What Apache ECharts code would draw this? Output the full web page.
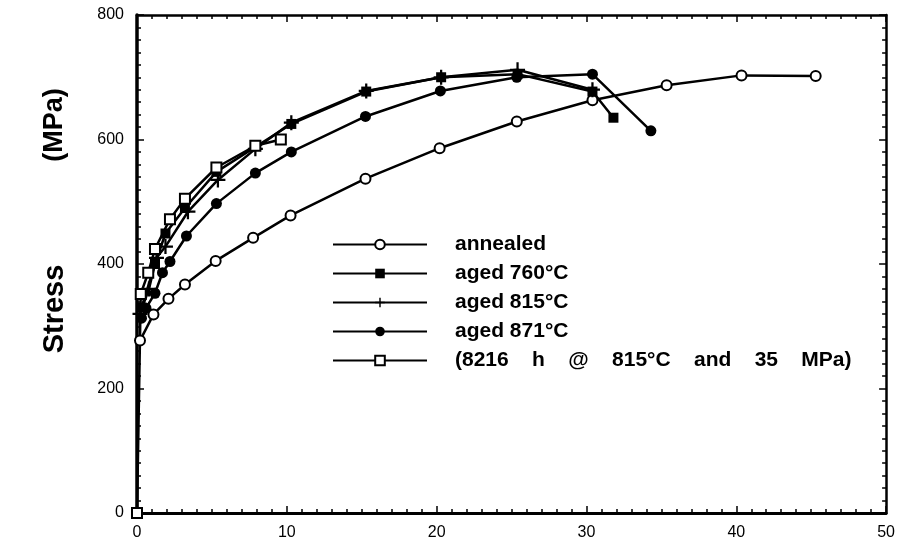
<!DOCTYPE html>
<html style="height: 100%" lang="en">
<head>
    <meta charset="UTF-8">
    <title>Stress curves</title>
</head>
<body style="height: 100%; margin: 0; background: #fff">
<div id="main1" style="width: 898px; height: 548px"></div>

<script src="https://cdn.jsdelivr.net/npm/echarts@6/dist/echarts.min.js"></script>
<script type="text/javascript">

    // data: [x, stress MPa]
    var annealed = [[0.2, 277], [1.1, 319], [2.1, 344], [3.2, 367], [5.25, 405], [7.75, 442],
        [10.25, 478], [15.25, 537], [20.2, 586], [25.35, 629], [30.4, 663], [35.35, 687],
        [40.35, 703], [45.3, 702]];
    var aged760 = [[0.3, 330], [1.2, 400], [1.9, 449], [3.2, 490], [5.3, 548], [10.3, 625],
        [15.3, 677], [20.3, 700], [25.4, 705], [30.4, 677], [31.8, 635]];
    var aged815 = [[0.2, 320], [0.8, 360], [1.3, 410], [1.9, 428], [3.4, 484], [5.4, 535],
        [7.9, 585], [10.3, 627], [15.3, 678], [20.3, 700], [25.4, 712], [30.4, 680]];
    var aged871 = [[0.3, 313], [0.6, 329], [1.2, 353], [1.7, 386], [2.2, 404], [3.3, 445],
        [5.3, 497], [7.9, 546], [10.3, 580], [15.25, 637], [20.25, 678], [25.35, 700],
        [30.4, 705], [34.3, 614]];
    var crept = [[0, 0], [0.25, 352], [0.75, 386], [1.2, 424], [2.2, 472], [3.2, 505],
        [5.3, 555], [7.9, 590], [9.6, 600]];
    var names = ['annealed', 'aged 760°C', 'aged 815°C', 'aged 871°C',
        '(8216    h    @    815°C    and    35    MPa)'];

    var plusPath = 'path://M8.5,0 L11.5,0 L11.5,8.5 L20,8.5 L20,11.5 L11.5,11.5 L11.5,20 L8.5,20 L8.5,11.5 L0,11.5 L0,8.5 L8.5,8.5 Z';

    var myChart1 = echarts.init(document.getElementById('main1'));

    function mk(name, data, symbol, size, fill) {
        return {
            name: name,
            type: 'line',
            xAxisIndex: 0,
            yAxisIndex: 0,
            data: data,
            symbol: symbol,
            symbolSize: size,
            showSymbol: true,
            lineStyle: {color: '#000', width: 2.5},
            itemStyle: {color: fill, borderColor: '#000', borderWidth: fill === '#fff' ? 2 : 0},
            animation: false
        };
    }

    var axisFont = {fontFamily: 'Liberation Sans', fontSize: 16, color: '#000'};
    var tickStyle = {color: '#000', width: 1.5};

    var option = {
        backgroundColor: '#fff',
        grid: {left: 137, right: 11, top: 15, bottom: 35},
        legend: {
            orient: 'vertical',
            left: 327,
            top: 229,
            itemWidth: 94,
            itemHeight: 12,
            itemGap: 8,
            data: names,
            textStyle: {fontFamily: 'Liberation Sans', fontSize: 21, fontWeight: 'bold', color: '#000', padding: [0, 0, 0, 23]}
        },
        graphic: [{
            type: 'text',
            x: 55,
            y: 309,
            rotation: Math.PI / 2,
            style: {text: 'Stress', font: 'bold 29px "Liberation Sans"', fill: '#000', align: 'center', verticalAlign: 'middle'}
        }, {
            type: 'text',
            x: 55,
            y: 125,
            rotation: Math.PI / 2,
            style: {text: '(MPa)', font: 'bold 27px "Liberation Sans"', fill: '#000', align: 'center', verticalAlign: 'middle'}
        }],
        xAxis: [{
            type: 'value', min: 0, max: 50, interval: 10,
            axisLine: {onZero: false, lineStyle: {color: '#000', width: 3}},
            axisTick: {inside: true, length: 7, lineStyle: tickStyle},
            minorTick: {show: true, splitNumber: 10, length: 4, lineStyle: tickStyle},
            axisLabel: Object.assign({margin: 12}, axisFont),
            splitLine: {show: false}
        }, {
            type: 'value', min: 0, max: 50, interval: 10, position: 'top',
            axisLine: {onZero: false, lineStyle: {color: '#000', width: 2.5}},
            axisTick: {inside: true, length: 7, lineStyle: tickStyle},
            minorTick: {show: true, splitNumber: 10, length: 4, lineStyle: tickStyle},
            axisLabel: {show: false},
            splitLine: {show: false}
        }],
        yAxis: [{
            type: 'value', min: 0, max: 800, interval: 200,
            axisLine: {onZero: false, lineStyle: {color: '#000', width: 3.5}},
            axisTick: {inside: true, length: 7, lineStyle: tickStyle},
            minorTick: {show: true, splitNumber: 10, length: 4, lineStyle: tickStyle},
            axisLabel: Object.assign({margin: 13}, axisFont),
            splitLine: {show: false}
        }, {
            type: 'value', min: 0, max: 800, interval: 200, position: 'right',
            axisLine: {onZero: false, lineStyle: {color: '#000', width: 2.5}},
            axisTick: {inside: true, length: 7, lineStyle: tickStyle},
            minorTick: {show: true, splitNumber: 10, length: 4, lineStyle: tickStyle},
            axisLabel: {show: false},
            splitLine: {show: false}
        }],
        series: [
            mk(names[0], annealed, 'circle', 10, '#fff'),
            mk(names[1], aged760, 'rect', 10, '#000'),
            mk(names[2], aged815, plusPath, 15, '#000'),
            mk(names[3], aged871, 'circle', 11, '#000'),
            mk(names[4], crept, 'rect', 10, '#fff')
        ]
    };

    myChart1.setOption(option);

</script>
</body>
</html>
